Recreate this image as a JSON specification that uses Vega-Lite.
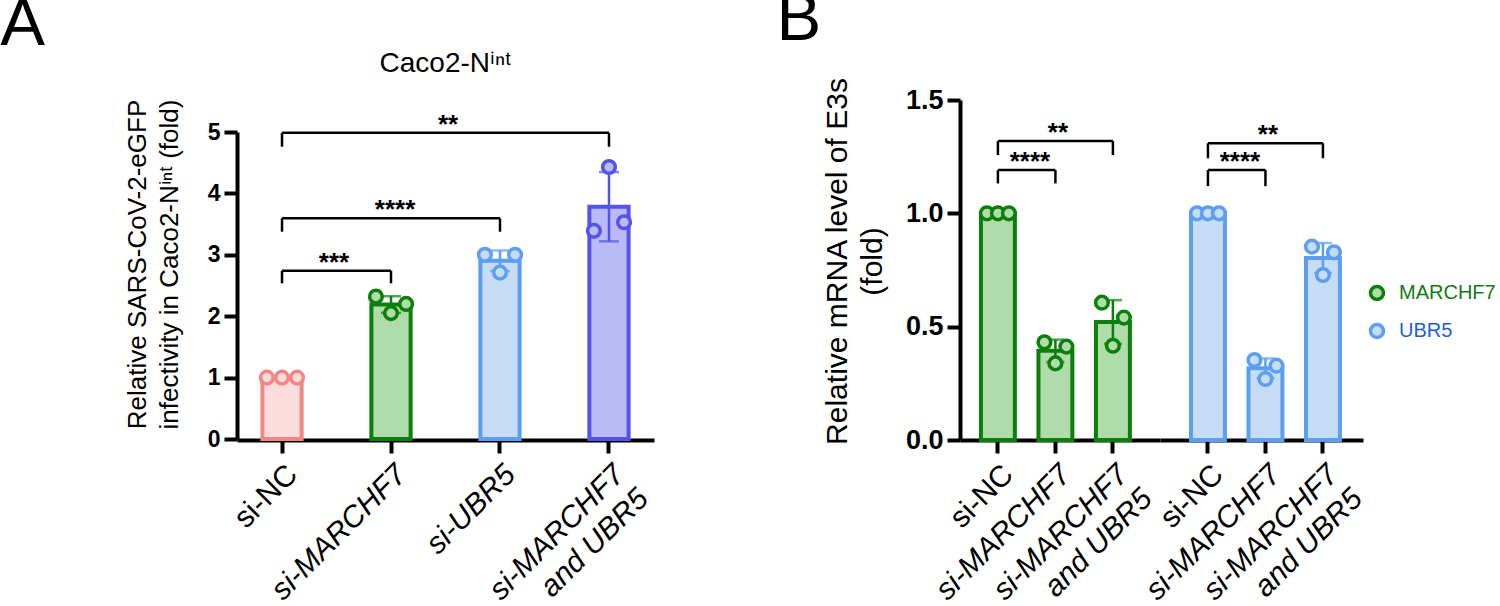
{
  "$schema": "https://vega.github.io/schema/vega-lite/v6.json",
  "background": "white",
  "padding": {"left": 0, "top": -15, "right": 2, "bottom": 2},
  "config": {
    "font": "Liberation Sans",
    "view": {"stroke": null},
    "axis": {"domainColor": "black", "domainWidth": 4, "tickColor": "black", "tickWidth": 4, "tickSize": 13, "labelColor": "black", "titleColor": "black", "grid": false, "labelFont": "Liberation Sans", "titleFont": "Liberation Sans"},
    "title": {"font": "Liberation Sans", "color": "black", "fontWeight": "normal"}
  },
  "datasets": {
    "a": [
      {"cond": "si-NC", "rep": 1, "value": 1.0},
      {"cond": "si-NC", "rep": 2, "value": 1.0},
      {"cond": "si-NC", "rep": 3, "value": 1.0},
      {"cond": "si-MARCHF7", "rep": 1, "value": 2.32},
      {"cond": "si-MARCHF7", "rep": 2, "value": 2.05},
      {"cond": "si-MARCHF7", "rep": 3, "value": 2.2},
      {"cond": "si-UBR5", "rep": 1, "value": 3.0},
      {"cond": "si-UBR5", "rep": 2, "value": 2.71},
      {"cond": "si-UBR5", "rep": 3, "value": 3.0},
      {"cond": "si-MARCHF7 and UBR5", "rep": 1, "value": 3.39},
      {"cond": "si-MARCHF7 and UBR5", "rep": 2, "value": 4.43},
      {"cond": "si-MARCHF7 and UBR5", "rep": 3, "value": 3.53}
    ],
    "abr": [
      {"from": "si-NC", "to": "si-MARCHF7", "level": 2.741, "leg": 2.536, "stars": "***"},
      {"from": "si-NC", "to": "si-UBR5", "level": 3.594, "leg": 3.376, "stars": "****"},
      {"from": "si-NC", "to": "si-MARCHF7 and UBR5", "level": 4.988, "leg": 4.76, "stars": "**"}
    ],
    "b": [
      {"gene": "MARCHF7", "cond": "si-NC", "rep": 1, "value": 1.0},
      {"gene": "MARCHF7", "cond": "si-NC", "rep": 2, "value": 1.0},
      {"gene": "MARCHF7", "cond": "si-NC", "rep": 3, "value": 1.0},
      {"gene": "MARCHF7", "cond": "si-MARCHF7", "rep": 1, "value": 0.431},
      {"gene": "MARCHF7", "cond": "si-MARCHF7", "rep": 2, "value": 0.338},
      {"gene": "MARCHF7", "cond": "si-MARCHF7", "rep": 3, "value": 0.412},
      {"gene": "MARCHF7", "cond": "si-MARCHF7 and UBR5", "rep": 1, "value": 0.606},
      {"gene": "MARCHF7", "cond": "si-MARCHF7 and UBR5", "rep": 2, "value": 0.416},
      {"gene": "MARCHF7", "cond": "si-MARCHF7 and UBR5", "rep": 3, "value": 0.54},
      {"gene": "UBR5", "cond": "si-NC", "rep": 1, "value": 1.0},
      {"gene": "UBR5", "cond": "si-NC", "rep": 2, "value": 1.0},
      {"gene": "UBR5", "cond": "si-NC", "rep": 3, "value": 1.0},
      {"gene": "UBR5", "cond": "si-MARCHF7", "rep": 1, "value": 0.353},
      {"gene": "UBR5", "cond": "si-MARCHF7", "rep": 2, "value": 0.269},
      {"gene": "UBR5", "cond": "si-MARCHF7", "rep": 3, "value": 0.328},
      {"gene": "UBR5", "cond": "si-MARCHF7 and UBR5", "rep": 1, "value": 0.853},
      {"gene": "UBR5", "cond": "si-MARCHF7 and UBR5", "rep": 2, "value": 0.728},
      {"gene": "UBR5", "cond": "si-MARCHF7 and UBR5", "rep": 3, "value": 0.828}
    ],
    "bbr": [
      {"gene": "MARCHF7", "from": "si-NC", "to": "si-MARCHF7", "level": 1.191, "leg": 1.132, "stars": "****"},
      {"gene": "MARCHF7", "from": "si-NC", "to": "si-MARCHF7 and UBR5", "level": 1.319, "leg": 1.257, "stars": "**"},
      {"gene": "UBR5", "from": "si-NC", "to": "si-MARCHF7", "level": 1.191, "leg": 1.12, "stars": "****"},
      {"gene": "UBR5", "from": "si-NC", "to": "si-MARCHF7 and UBR5", "level": 1.309, "leg": 1.243, "stars": "**"}
    ]
  },
  "resolve": {
    "scale": {"fill": "independent", "stroke": "independent", "color": "independent", "xOffset": "independent"},
    "legend": {"fill": "independent", "stroke": "independent", "color": "independent"}
  },
  "spacing": 122,
  "hconcat": [
    {
      "title": {"text": "A", "anchor": "start", "frame": "bounds", "fontSize": 67, "dx": -124, "baseline": "alphabetic", "offset": -62},
      "hconcat": [
        {
          "title": {"text": "Caco2-Nⁱⁿᵗ", "fontSize": 28, "anchor": "middle", "offset": 21},
          "width": 417,
          "height": 340,
          "resolve": {"scale": {"xOffset": "independent"}},
          "layer": [
            {
              "data": {"name": "a"},
              "mark": {"type": "bar", "strokeWidth": 4},
              "encoding": {
                "x": {"field": "cond", "type": "nominal", "title": null, "scale": {"domain": ["si-NC", "si-MARCHF7", "si-UBR5", "si-MARCHF7 and UBR5"], "paddingInner": 0.64, "paddingOuter": 0.233},
                  "axis": {"labelAngle": -45, "labelAlign": "right", "labelBaseline": "top", "labelFontSize": 30, "labelPadding": 6, "labelLineHeight": 34,
                    "labelFontStyle": {"condition": {"test": "datum.value != 'si-NC'", "value": "italic"}, "value": "normal"},
                    "labelExpr": "datum.label == 'si-MARCHF7 and UBR5' ? ['si-MARCHF7', 'and UBR5'] : datum.label"}},
                "y": {"aggregate": "mean", "field": "value", "type": "quantitative", "title": ["Relative SARS-CoV-2-eGFP", "infectivity in Caco2-Nⁱⁿᵗ (fold)"],
                  "scale": {"domain": [0, 5], "nice": false, "range": [339, 32]},
                  "axis": {"values": [0, 1, 2, 3, 4, 5], "format": "d", "labelFontSize": 23, "labelFontWeight": "bold", "labelPadding": 4, "titleFontSize": 26, "titleFontWeight": "normal", "titleLineHeight": 32, "titlePadding": 25, "titleY": 164}},
                "fill": {"field": "cond", "type": "nominal", "scale": {"domain": ["si-NC", "si-MARCHF7", "si-UBR5", "si-MARCHF7 and UBR5"], "range": ["#fddcdc", "#afdcaa", "#c7dcf5", "#babaf7"]}, "legend": null},
                "stroke": {"field": "cond", "type": "nominal", "scale": {"domain": ["si-NC", "si-MARCHF7", "si-UBR5", "si-MARCHF7 and UBR5"], "range": ["#f28585", "#0a7f0a", "#5c9ff0", "#5252ec"]}, "legend": null}
              }
            },
            {
              "data": {"name": "a"},
              "mark": {"type": "errorbar", "extent": "stdev", "ticks": true, "size": 20, "thickness": 2.5},
              "encoding": {
                "x": {"field": "cond", "type": "nominal", "title": null},
                "y": {"field": "value", "type": "quantitative", "title": ["Relative SARS-CoV-2-eGFP", "infectivity in Caco2-Nⁱⁿᵗ (fold)"]},
                "color": {"field": "cond", "type": "nominal", "scale": {"domain": ["si-NC", "si-MARCHF7", "si-UBR5", "si-MARCHF7 and UBR5"], "range": ["#f28585", "#0a7f0a", "#5c9ff0", "#5252ec"]}, "legend": null}
              }
            },
            {
              "data": {"name": "a"},
              "mark": {"type": "circle", "size": 160, "strokeWidth": 3.5, "opacity": 1},
              "encoding": {
                "x": {"field": "cond", "type": "nominal", "title": null},
                "xOffset": {"field": "rep", "type": "nominal", "scale": {"type": "point", "padding": 0.3}},
                "y": {"field": "value", "type": "quantitative", "title": ["Relative SARS-CoV-2-eGFP", "infectivity in Caco2-Nⁱⁿᵗ (fold)"]},
                "fill": {"field": "cond", "type": "nominal"},
                "stroke": {"field": "cond", "type": "nominal"}
              }
            },
            {
              "data": {"name": "abr"},
              "mark": {"type": "rule", "strokeWidth": 2.5, "color": "black"},
              "encoding": {"x": {"field": "from", "type": "nominal", "title": null}, "x2": {"field": "to"}, "y": {"field": "level", "type": "quantitative", "title": ["Relative SARS-CoV-2-eGFP", "infectivity in Caco2-Nⁱⁿᵗ (fold)"]}}
            },
            {
              "data": {"name": "abr"},
              "mark": {"type": "rule", "strokeWidth": 2.5, "color": "black"},
              "encoding": {"x": {"field": "from", "type": "nominal", "title": null}, "y": {"field": "level", "type": "quantitative", "title": ["Relative SARS-CoV-2-eGFP", "infectivity in Caco2-Nⁱⁿᵗ (fold)"]}, "y2": {"field": "leg"}}
            },
            {
              "data": {"name": "abr"},
              "mark": {"type": "rule", "strokeWidth": 2.5, "color": "black"},
              "encoding": {"x": {"field": "to", "type": "nominal", "title": null}, "y": {"field": "level", "type": "quantitative", "title": ["Relative SARS-CoV-2-eGFP", "infectivity in Caco2-Nⁱⁿᵗ (fold)"]}, "y2": {"field": "leg"}}
            },
            {
              "data": {"name": "abr"},
              "transform": [{"filter": "datum.stars == '***'"}],
              "mark": {"type": "text", "fontSize": 26, "fontWeight": "bold", "baseline": "alphabetic", "align": "center", "dx": 52, "color": "black"},
              "encoding": {"x": {"field": "from", "type": "nominal", "title": null}, "y": {"field": "level", "type": "quantitative", "title": ["Relative SARS-CoV-2-eGFP", "infectivity in Caco2-Nⁱⁿᵗ (fold)"]}, "text": {"field": "stars"}}
            },
            {
              "data": {"name": "abr"},
              "transform": [{"filter": "datum.stars == '****'"}],
              "mark": {"type": "text", "fontSize": 26, "fontWeight": "bold", "baseline": "alphabetic", "align": "center", "dx": 113, "color": "black"},
              "encoding": {"x": {"field": "from", "type": "nominal", "title": null}, "y": {"field": "level", "type": "quantitative", "title": ["Relative SARS-CoV-2-eGFP", "infectivity in Caco2-Nⁱⁿᵗ (fold)"]}, "text": {"field": "stars"}}
            },
            {
              "data": {"name": "abr"},
              "transform": [{"filter": "datum.stars == '**'"}],
              "mark": {"type": "text", "fontSize": 26, "fontWeight": "bold", "baseline": "alphabetic", "align": "center", "dx": 166, "color": "black"},
              "encoding": {"x": {"field": "from", "type": "nominal", "title": null}, "y": {"field": "level", "type": "quantitative", "title": ["Relative SARS-CoV-2-eGFP", "infectivity in Caco2-Nⁱⁿᵗ (fold)"]}, "text": {"field": "stars"}}
            }
          ]
        }
      ]
    },
    {
      "title": {"text": "B", "anchor": "start", "frame": "bounds", "fontSize": 67, "dx": -46, "baseline": "alphabetic", "offset": -30},
      "spacing": 0,
      "bounds": "flush",
      "hconcat": [
        {
          "width": 200,
          "height": 340,
          "resolve": {"scale": {"xOffset": "independent"}},
          "layer": [
            {
              "data": {"name": "b"},
              "transform": [{"filter": "datum.gene == 'MARCHF7'"}],
              "mark": {"type": "bar", "strokeWidth": 4},
              "encoding": {
                "x": {"field": "cond", "type": "nominal", "title": null, "scale": {"domain": ["si-NC", "si-MARCHF7", "si-MARCHF7 and UBR5"], "paddingInner": 0.41, "paddingOuter": 0.444, "align": 0.41},
                  "axis": {"labelAngle": -45, "labelAlign": "right", "labelBaseline": "top", "labelFontSize": 30, "labelPadding": 6, "labelLineHeight": 34,
                    "labelFontStyle": {"condition": {"test": "datum.value != 'si-NC'", "value": "italic"}, "value": "normal"},
                    "labelExpr": "datum.label == 'si-MARCHF7 and UBR5' ? ['si-MARCHF7', 'and UBR5'] : datum.label"}},
                "y": {"aggregate": "mean", "field": "value", "type": "quantitative", "title": ["Relative mRNA level of E3s", "(fold)"],
                  "scale": {"domain": [0, 1.5], "nice": false},
                  "axis": {"values": [0, 0.5, 1, 1.5], "format": ".1f", "labelFontSize": 27, "labelFontWeight": "bold", "labelPadding": 4, "titleFontSize": 30, "titleFontWeight": "normal", "titleLineHeight": 35, "titlePadding": 18, "titleY": 161}},
                "fill": {"field": "gene", "type": "nominal", "scale": {"domain": ["MARCHF7", "UBR5"], "range": ["#afdcaa", "#c7dcf5"]},
                  "legend": {"orient": "none", "legendX": 407, "legendY": 183, "title": null, "symbolType": "circle", "symbolSize": 170, "symbolStrokeWidth": 3.5, "labelFontSize": 20, "labelFont": "Liberation Sans", "rowPadding": 10, "labelOffset": 12,
                    "encode": {"labels": {"update": {"fill": {"signal": "datum.value === 'MARCHF7' ? '#137a13' : '#1f5fd6'"}}}}}},
                "stroke": {"field": "gene", "type": "nominal", "scale": {"domain": ["MARCHF7", "UBR5"], "range": ["#0a7f0a", "#5c9ff0"]},
                  "legend": {"orient": "none", "legendX": 407, "legendY": 183, "title": null, "symbolType": "circle", "symbolSize": 170, "symbolStrokeWidth": 3.5, "labelFontSize": 20, "labelFont": "Liberation Sans", "rowPadding": 10, "labelOffset": 12,
                    "encode": {"labels": {"update": {"fill": {"signal": "datum.value === 'MARCHF7' ? '#137a13' : '#1f5fd6'"}}}}}}
              }
            },
            {
              "data": {"name": "b"},
              "transform": [{"filter": "datum.gene == 'MARCHF7'"}],
              "mark": {"type": "errorbar", "extent": "stdev", "ticks": true, "size": 18, "thickness": 2.5},
              "encoding": {
                "x": {"field": "cond", "type": "nominal", "title": null},
                "y": {"field": "value", "type": "quantitative", "title": ["Relative mRNA level of E3s", "(fold)"]},
                "color": {"field": "gene", "type": "nominal", "scale": {"domain": ["MARCHF7", "UBR5"], "range": ["#0a7f0a", "#5c9ff0"]}, "legend": null}
              }
            },
            {
              "data": {"name": "b"},
              "transform": [{"filter": "datum.gene == 'MARCHF7'"}],
              "mark": {"type": "circle", "size": 160, "strokeWidth": 3.5, "opacity": 1},
              "encoding": {
                "x": {"field": "cond", "type": "nominal", "title": null},
                "xOffset": {"field": "rep", "type": "nominal", "scale": {"type": "point", "padding": 0.545}},
                "y": {"field": "value", "type": "quantitative", "title": ["Relative mRNA level of E3s", "(fold)"]},
                "fill": {"field": "gene", "type": "nominal"},
                "stroke": {"field": "gene", "type": "nominal"}
              }
            },
            {
              "data": {"name": "bbr"},
              "transform": [{"filter": "datum.gene == 'MARCHF7'"}],
              "mark": {"type": "rule", "strokeWidth": 2.5, "color": "black"},
              "encoding": {"x": {"field": "from", "type": "nominal", "title": null}, "x2": {"field": "to"}, "y": {"field": "level", "type": "quantitative", "title": ["Relative mRNA level of E3s", "(fold)"]}}
            },
            {
              "data": {"name": "bbr"},
              "transform": [{"filter": "datum.gene == 'MARCHF7'"}],
              "mark": {"type": "rule", "strokeWidth": 2.5, "color": "black"},
              "encoding": {"x": {"field": "from", "type": "nominal", "title": null}, "y": {"field": "level", "type": "quantitative", "title": ["Relative mRNA level of E3s", "(fold)"]}, "y2": {"field": "leg"}}
            },
            {
              "data": {"name": "bbr"},
              "transform": [{"filter": "datum.gene == 'MARCHF7'"}],
              "mark": {"type": "rule", "strokeWidth": 2.5, "color": "black"},
              "encoding": {"x": {"field": "to", "type": "nominal", "title": null}, "y": {"field": "level", "type": "quantitative", "title": ["Relative mRNA level of E3s", "(fold)"]}, "y2": {"field": "leg"}}
            },
            {
              "data": {"name": "bbr"},
              "transform": [{"filter": "datum.gene == 'MARCHF7' && datum.stars == '****'"}],
              "mark": {"type": "text", "fontSize": 26, "fontWeight": "bold", "baseline": "alphabetic", "align": "center", "dx": 32, "color": "black"},
              "encoding": {"x": {"field": "from", "type": "nominal", "title": null}, "y": {"field": "level", "type": "quantitative", "title": ["Relative mRNA level of E3s", "(fold)"]}, "text": {"field": "stars"}}
            },
            {
              "data": {"name": "bbr"},
              "transform": [{"filter": "datum.gene == 'MARCHF7' && datum.stars == '**'"}],
              "mark": {"type": "text", "fontSize": 26, "fontWeight": "bold", "baseline": "alphabetic", "align": "center", "dx": 60, "color": "black"},
              "encoding": {"x": {"field": "from", "type": "nominal", "title": null}, "y": {"field": "level", "type": "quantitative", "title": ["Relative mRNA level of E3s", "(fold)"]}, "text": {"field": "stars"}}
            }
          ]
        },
        {
          "width": 203,
          "height": 340,
          "resolve": {"scale": {"xOffset": "independent"}},
          "layer": [
            {
              "data": {"name": "b"},
              "transform": [{"filter": "datum.gene == 'UBR5'"}],
              "mark": {"type": "bar", "strokeWidth": 4},
              "encoding": {
                "x": {"field": "cond", "type": "nominal", "title": null, "scale": {"domain": ["si-NC", "si-MARCHF7", "si-MARCHF7 and UBR5"], "paddingInner": 0.41, "paddingOuter": 0.47, "align": 0.573},
                  "axis": {"labelAngle": -45, "labelAlign": "right", "labelBaseline": "top", "labelFontSize": 30, "labelPadding": 6, "labelLineHeight": 34,
                    "labelFontStyle": {"condition": {"test": "datum.value != 'si-NC'", "value": "italic"}, "value": "normal"},
                    "labelExpr": "datum.label == 'si-MARCHF7 and UBR5' ? ['si-MARCHF7', 'and UBR5'] : datum.label"}},
                "y": {"aggregate": "mean", "field": "value", "type": "quantitative", "scale": {"domain": [0, 1.5], "nice": false}, "axis": null},
                "fill": {"field": "gene", "type": "nominal"},
                "stroke": {"field": "gene", "type": "nominal"}
              }
            },
            {
              "data": {"name": "b"},
              "transform": [{"filter": "datum.gene == 'UBR5'"}],
              "mark": {"type": "errorbar", "extent": "stdev", "ticks": true, "size": 18, "thickness": 2.5},
              "encoding": {
                "x": {"field": "cond", "type": "nominal", "title": null},
                "y": {"field": "value", "type": "quantitative"},
                "color": {"field": "gene", "type": "nominal", "legend": null}
              }
            },
            {
              "data": {"name": "b"},
              "transform": [{"filter": "datum.gene == 'UBR5'"}],
              "mark": {"type": "circle", "size": 160, "strokeWidth": 3.5, "opacity": 1},
              "encoding": {
                "x": {"field": "cond", "type": "nominal", "title": null},
                "xOffset": {"field": "rep", "type": "nominal", "scale": {"type": "point", "padding": 0.545}},
                "y": {"field": "value", "type": "quantitative"},
                "fill": {"field": "gene", "type": "nominal"},
                "stroke": {"field": "gene", "type": "nominal"}
              }
            },
            {
              "data": {"name": "bbr"},
              "transform": [{"filter": "datum.gene == 'UBR5'"}],
              "mark": {"type": "rule", "strokeWidth": 2.5, "color": "black"},
              "encoding": {"x": {"field": "from", "type": "nominal", "title": null}, "x2": {"field": "to"}, "y": {"field": "level", "type": "quantitative"}}
            },
            {
              "data": {"name": "bbr"},
              "transform": [{"filter": "datum.gene == 'UBR5'"}],
              "mark": {"type": "rule", "strokeWidth": 2.5, "color": "black"},
              "encoding": {"x": {"field": "from", "type": "nominal", "title": null}, "y": {"field": "level", "type": "quantitative"}, "y2": {"field": "leg"}}
            },
            {
              "data": {"name": "bbr"},
              "transform": [{"filter": "datum.gene == 'UBR5'"}],
              "mark": {"type": "rule", "strokeWidth": 2.5, "color": "black"},
              "encoding": {"x": {"field": "to", "type": "nominal", "title": null}, "y": {"field": "level", "type": "quantitative"}, "y2": {"field": "leg"}}
            },
            {
              "data": {"name": "bbr"},
              "transform": [{"filter": "datum.gene == 'UBR5' && datum.stars == '****'"}],
              "mark": {"type": "text", "fontSize": 26, "fontWeight": "bold", "baseline": "alphabetic", "align": "center", "dx": 32, "color": "black"},
              "encoding": {"x": {"field": "from", "type": "nominal", "title": null}, "y": {"field": "level", "type": "quantitative"}, "text": {"field": "stars"}}
            },
            {
              "data": {"name": "bbr"},
              "transform": [{"filter": "datum.gene == 'UBR5' && datum.stars == '**'"}],
              "mark": {"type": "text", "fontSize": 26, "fontWeight": "bold", "baseline": "alphabetic", "align": "center", "dx": 60, "color": "black"},
              "encoding": {"x": {"field": "from", "type": "nominal", "title": null}, "y": {"field": "level", "type": "quantitative"}, "text": {"field": "stars"}}
            }
          ]
        }
      ]
    }
  ]
}
